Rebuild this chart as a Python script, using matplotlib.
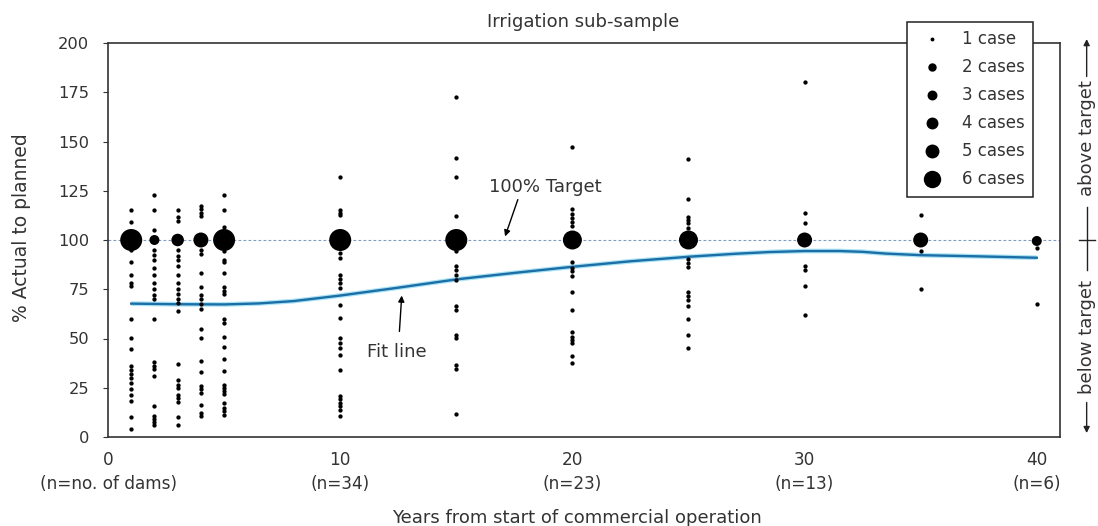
import matplotlib
matplotlib.use('Agg')
import matplotlib.pyplot as plt
import matplotlib.transforms as mtransforms
from matplotlib.lines import Line2D

plt.rcParams['font.family'] = ['DejaVu Sans']

# ---------------- data ----------------
cluster_years = [1, 2, 3, 4, 5, 10, 15, 20, 25, 30, 35, 40]
cluster_values = [100, 100, 100, 100, 100, 100, 100, 100, 100, 100, 100, 99.5]
cluster_cases = [6, 2, 3, 4, 6, 6, 6, 5, 5, 4, 4, 2]

singles_y1 = [115, 109, 95, 89, 82, 78, 76.5, 60, 50.5, 44.5, 36, 34, 32, 30, 27.5,
              24.5, 21.5, 18.5, 10, 4]
singles_y2 = [123, 115, 105, 95, 92.5, 90, 86, 82, 78, 75, 72, 70, 60, 38, 36, 34.5,
              31, 15.5, 10.5, 9, 7.5, 6]
singles_y3 = [115, 111.5, 109.5, 95, 92, 90, 87, 82, 78, 75, 72.5, 70, 68, 64, 37, 29,
              26.5, 25, 21.5, 20, 18, 10, 6]
singles_y4 = [117.5, 115.5, 113.5, 112, 95, 93, 83, 76, 72, 70, 67.5, 65, 55, 50.5,
              38.5, 33, 26, 24.5, 22.5, 16, 12, 10.5]
singles_y5 = [123, 115, 106.5, 94.5, 90, 89, 83, 76, 74, 72.5, 60, 58, 51, 45.5, 39.5,
              33.5, 26.5, 25, 23.5, 22, 17.5, 14.5, 13, 11]
singles_y10 = [132, 115, 113.8, 112.5, 93.5, 91, 82.4, 80, 78, 75.7, 66.8, 60.4, 50.2,
               47.7, 45.1, 41.7, 34.1, 20.9, 19.2, 17.5, 15.8, 13.7, 10.7]
singles_y15 = [172.4, 141.8, 132.2, 112.1, 94.3, 86.7, 84.6, 82.4, 79.9, 66.7, 64.6,
               51.9, 50.2, 36.6, 34.5, 11.5]
singles_y20 = [147.4, 115.5, 113.3, 111.3, 109.3, 107, 88.7, 85.8, 84.1, 81.6, 73.4,
               64.3, 53.3, 51, 49.4, 47.7, 41.2, 37.8]
singles_y25 = [141, 121, 111.8, 110.1, 108.4, 106.2, 90.4, 88.4, 86.4, 73.4, 71.4, 69.7,
               66.3, 60, 51.6, 45.1]
singles_y30 = [180, 113.5, 108.7, 86.7, 85, 76.8, 62.1]
singles_y35 = [112.5, 94.3, 75.3]
singles_y40 = [96, 67.7]

singles_by_year = {1: singles_y1, 2: singles_y2, 3: singles_y3, 4: singles_y4,
                   5: singles_y5, 10: singles_y10, 15: singles_y15, 20: singles_y20,
                   25: singles_y25, 30: singles_y30, 35: singles_y35, 40: singles_y40}

fit_x = [1, 3, 5, 6.5, 8, 10, 12.5, 15, 17.5, 20, 22.5, 25, 27, 28.5, 30, 31.5, 32.5,
         33.5, 35, 37.5, 40]
fit_y = [67.7, 67.4, 67.3, 67.8, 69.0, 71.8, 75.8, 80, 83.3, 86.4, 89.2, 91.5, 93,
         93.9, 94.4, 94.4, 94.0, 93.1, 92.3, 91.7, 91]

target_value = 100
x_ticks = [0, 10, 20, 30, 40]
x_ticklabels = ['0\n(n=no. of dams)', '10\n(n=34)', '20\n(n=23)', '30\n(n=13)', '40\n(n=6)']
y_ticks = [0, 25, 50, 75, 100, 125, 150, 175, 200]
legend_cases = [1, 2, 3, 4, 5, 6]
legend_labels = ['1 case', '2 cases', '3 cases', '4 cases', '5 cases', '6 cases']

# ---------------- style ----------------
PLOT_DIAM_PX = {1: 4.3, 2: 10, 3: 12.5, 4: 15, 5: 19, 6: 22}
LEGEND_DIAM_PX = {1: 2.5, 2: 7, 3: 8.5, 4: 10.5, 5: 12.5, 6: 16}
TXT = '#333333'
FS_TICK = 11.7
FS = 13

fig = plt.figure(figsize=(10.98, 5.26), dpi=100)
ax = fig.add_axes([108 / 1098, 1 - 437 / 526, (1060 - 108) / 1098, (437 - 43) / 526])
ax.set_xlim(0, 41)
ax.set_ylim(0, 200)

# target line
ax.axhline(target_value, color='#7f9cc0', lw=0.8, dashes=(2.5, 2), zorder=1)

# single-case dots
for yr, vals in singles_by_year.items():
    ax.scatter([yr] * len(vals), vals, s=(PLOT_DIAM_PX[1] * 0.72) ** 2,
               color='black', linewidths=0, zorder=3)

# cluster dots
ax.scatter(cluster_years, cluster_values,
           s=[(PLOT_DIAM_PX[c] * 0.72) ** 2 for c in cluster_cases],
           color='black', linewidths=0, zorder=4)

# fit line
ax.plot(fit_x, fit_y, color='#a9e3f4', lw=3.4, solid_capstyle='butt', zorder=2)
ax.plot(fit_x, fit_y, color='#1c6ea6', lw=1.7, zorder=2.1)

# annotations
ax.text(18.85, 127, '100% Target', ha='center', va='center', fontsize=FS, color=TXT)
ax.annotate('', xy=(17.1, 101.8), xytext=(17.65, 120.5),
            arrowprops=dict(arrowstyle='-|>', color='black', lw=1, mutation_scale=9,
                            shrinkA=0, shrinkB=0))
ax.text(12.45, 43.3, 'Fit line', ha='center', va='center', fontsize=FS, color=TXT)
ax.annotate('', xy=(12.65, 71.8), xytext=(12.55, 53.6),
            arrowprops=dict(arrowstyle='-|>', color='black', lw=1, mutation_scale=9,
                            shrinkA=0, shrinkB=0))

# right-side indicator
trans = mtransforms.blended_transform_factory(ax.transAxes, ax.transData)
rx = 1.028
ax.annotate('', xy=(rx, 202), xytext=(rx, 183), xycoords=trans, textcoords=trans,
            annotation_clip=False,
            arrowprops=dict(arrowstyle='-|>', color='#222', lw=1, mutation_scale=9,
                            shrinkA=0, shrinkB=0))
ax.annotate('', xy=(rx, 2), xytext=(rx, 17.5), xycoords=trans, textcoords=trans,
            annotation_clip=False,
            arrowprops=dict(arrowstyle='-|>', color='#222', lw=1, mutation_scale=9,
                            shrinkA=0, shrinkB=0))
ax.plot([rx, rx], [85, 116.5], transform=trans, color='#222', lw=1, clip_on=False)
ax.plot([rx - 0.0085, rx + 0.0085], [100, 100], transform=trans, color='#222', lw=1,
        clip_on=False)
ax.text(rx, 151.5, 'above target', transform=trans, rotation=90, ha='center',
        va='center', fontsize=FS, color=TXT)
ax.text(rx, 51, 'below target', transform=trans, rotation=90, ha='center', va='center',
        fontsize=FS, color=TXT)

# axes styling
for sp in ax.spines.values():
    sp.set_color('#333333')
    sp.set_linewidth(1.2)
ax.set_xticks(x_ticks)
ax.set_xticklabels(x_ticklabels, fontsize=FS_TICK + 0.5, color=TXT, linespacing=1.45)
ax.tick_params(axis='x', length=0, pad=10)
ax.set_yticks(y_ticks)
ax.set_yticklabels([str(v) for v in y_ticks], fontsize=FS_TICK, color=TXT)
ax.tick_params(axis='y', direction='out', length=3.5, width=0.8, pad=10, colors='#333',
               labelcolor=TXT)

fig.text(21.7 / 1098, 1 - 228 / 526, '% Actual to planned', rotation=90, ha='center',
         va='center', fontsize=13.5, color=TXT)
fig.text(577 / 1098, 1 - 518 / 526, 'Years from start of commercial operation',
         ha='center', va='center', fontsize=FS, color=TXT)
fig.text(583 / 1098, 1 - 21.7 / 526, 'Irrigation sub-sample', ha='center', va='center',
         fontsize=FS, color=TXT)

# legend
handles = [Line2D([], [], marker='o', ls='', color='black',
                  markersize=LEGEND_DIAM_PX[c] * 0.72) for c in legend_cases]
leg = ax.legend(handles, legend_labels, loc='upper right',
                bbox_to_anchor=(0.9717, 1.053), borderaxespad=0, frameon=True,
                fancybox=False, framealpha=1, edgecolor='#222', fontsize=12,
                handlelength=2.0, handletextpad=0.82, borderpad=0.5, labelspacing=0.6)
leg.get_frame().set_linewidth(1.1)
for t in leg.get_texts():
    t.set_color(TXT)
leg.set_zorder(10)

fig.savefig('out.png', dpi=100)
